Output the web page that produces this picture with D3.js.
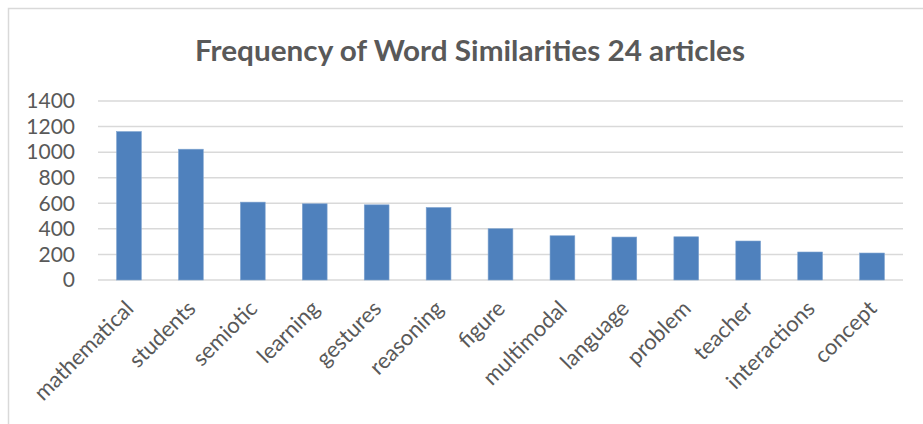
<!DOCTYPE html>
<html>
<head>
<meta charset="utf-8">
<script src="https://cdn.jsdelivr.net/npm/d3@7"></script>
<style>
  body { margin: 0; background: #fff; }
  text { font-family: Lato, "Open Sans", sans-serif; fill: #595959; }
</style>
</head>
<body>
<div class="chart"></div>
<script>
// Data
var words = ["mathematical", "students", "semiotic", "learning", "gestures", "reasoning",
  "figure", "multimodal", "language", "problem", "teacher", "interactions", "concept"];
var counts = [1161, 1023, 609, 596, 588, 567, 401, 346, 336, 338, 305, 219, 211];
var yTicks = [0, 200, 400, 600, 800, 1000, 1200, 1400];
var title = "Frequency of Word Similarities 24 articles";

var W = 923, H = 424;
var margin = {top: 101, right: 20, bottom: 144, left: 98},
  width = 903 - margin.left,
  height = H - margin.top - margin.bottom;

var svg = d3.select(".chart")
  .append("svg")
  .attr("width", W)
  .attr("height", H);

// chart frame (runs off the right and bottom edges)
svg.append("rect")
  .attr("x", 8.5).attr("y", 8.5)
  .attr("width", 940).attr("height", 440)
  .attr("fill", "none")
  .attr("stroke", "#d9d9d9")
  .attr("stroke-width", 1.5);

// title
svg.append("text")
  .attr("x", 470)
  .attr("y", 61)
  .attr("text-anchor", "middle")
  .attr("font-size", "28px")
  .attr("font-weight", "bold")
  .attr("textLength", 550)
  .attr("lengthAdjust", "spacingAndGlyphs")
  .text(title);

var g = svg.append("g")
  .attr("transform", "translate(" + margin.left + "," + margin.top + ")");

var x = d3.scaleBand()
  .domain(words)
  .range([0, width])
  .paddingInner(0.6)
  .paddingOuter(0.3);

var y = d3.scaleLinear()
  .domain([0, 1400])
  .range([height, 0]);

// gridlines
g.selectAll("line.grid")
  .data(yTicks)
  .enter()
  .append("line")
  .attr("class", "grid")
  .attr("x1", 0).attr("x2", width)
  .attr("y1", function(d) { return y(d); })
  .attr("y2", function(d) { return y(d); })
  .attr("stroke", "#d9d9d9")
  .attr("stroke-width", 1.5);

// y axis labels
var yAxis = g.append("g")
  .call(d3.axisLeft(y).tickValues(yTicks).tickFormat(d3.format("d")).tickSize(0).tickPadding(23));
yAxis.select(".domain").remove();
yAxis.selectAll("text")
  .attr("font-size", "21px")
  .style("font-family", "Lato, 'Open Sans', sans-serif")
  .attr("fill", "#595959");

// bars
g.selectAll("rect.bar")
  .data(words)
  .enter()
  .append("rect")
  .attr("class", "bar")
  .attr("x", function(d) { return x(d); })
  .attr("y", function(d, i) { return y(counts[i]); })
  .attr("width", x.bandwidth())
  .attr("height", function(d, i) { return height - y(counts[i]); })
  .attr("fill", "#4f81bd")
  .attr("stroke", "#7ea3d0")
  .attr("stroke-width", 0.6);

// x axis labels, rotated
var xAxis = g.append("g")
  .attr("transform", "translate(0," + height + ")")
  .call(d3.axisBottom(x).tickSize(0).tickPadding(0));
xAxis.select(".domain").remove();
xAxis.selectAll("text")
  .attr("font-size", "22px")
  .style("font-family", "Lato, 'Open Sans', sans-serif")
  .attr("fill", "#595959")
  .attr("text-anchor", "end")
  .attr("dy", "0")
  .attr("transform", "translate(6,30) rotate(-45)");
</script>
</body>
</html>
